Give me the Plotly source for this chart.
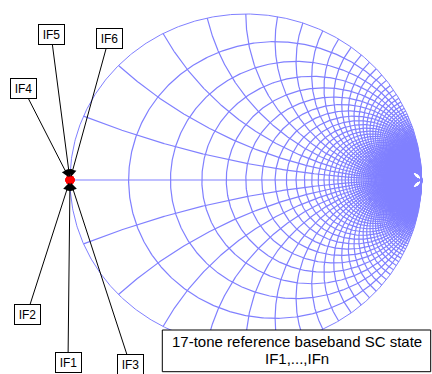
import numpy as np
import plotly.graph_objects as go

# Smith chart grid: normalised resistance circles and reactance arcs
r_values = [0.2, 0.4, 0.6, 0.8, 1.0, 1.2, 1.4, 1.6, 1.8, 2.0,
            2.2, 2.4, 2.6, 2.8, 3.0, 3.2, 3.4, 3.6, 3.8, 4.0,
            4.2, 4.4, 4.6, 4.8, 5.0, 5.2, 5.4, 5.6, 5.8, 6.0,
            6.2, 6.4, 6.6, 6.8, 7.0, 7.2, 7.4, 7.6, 7.8, 8.0,
            8.2, 8.4, 8.6, 8.8, 9.0, 9.2, 9.4, 9.6, 9.8, 10.0,
            10.5, 11, 11.5, 12, 12.5, 13, 13.5, 14, 14.5, 15,
            15.5, 16, 16.5, 17, 17.5, 18, 18.5, 19, 19.5, 20]
x_values = list(r_values)

# baseband tones: reflection coefficient presented at each IF frequency
tone_labels = ["IF1", "IF2", "IF3", "IF4", "IF5", "IF6"]
tone_gamma_re = [-1.0, -1.0, -1.0, -1.0, -1.0, -1.0]
tone_gamma_im = [0.0, 0.0, 0.0, 0.0, 0.0, 0.0]

legend_lines = ["17-tone reference baseband SC state", "IF1,...,IFn"]

W, H = 432, 374
CX, CY = 245.8, 180.0      # pixel position of gamma = 0
SX, SY = 175.8, 166.0      # pixels per unit of gamma (x / y)

GRID = "#8080ff"
FONT = "Liberation Sans, Arial, Helvetica, sans-serif"


def r_circle(r):
    c = r / (1 + r)
    rad = 1 / (1 + r)
    t = np.linspace(0, 2 * np.pi, 721)
    return c + rad * np.cos(t), rad * np.sin(t)


def x_arc(x):
    # arc of constant reactance x>0 from the outer circle to gamma = 1
    cy = 1 / x
    rad = 1 / x
    gx = (x * x - 1) / (x * x + 1)
    gy = 2 * x / (x * x + 1)
    phi0 = np.arctan2(gy - cy, gx - 1) % (2 * np.pi)
    t = np.linspace(phi0, 1.5 * np.pi, 600)
    return 1 + rad * np.cos(t), cy + rad * np.sin(t)


xs, ys = [], []


def add(px, py):
    xs.extend(px.tolist() + [None])
    ys.extend(py.tolist() + [None])


# real axis plus the resistance circles and reactance arcs
add(np.array([-1.0, 1.0]), np.array([0.0, 0.0]))
for r in r_values:
    add(*r_circle(r))
for x in x_values:
    ax_, ay_ = x_arc(x)
    add(ax_, ay_)
    add(ax_, -ay_)

fig = go.Figure()
fig.add_trace(go.Scatter(x=xs, y=ys, mode="lines",
                         line=dict(color=GRID, width=1.2),
                         hoverinfo="skip", connectgaps=False))
# outer boundary (r = 0), drawn a little lighter
bx, by = r_circle(0.0)
fig.add_trace(go.Scatter(x=bx, y=by, mode="lines",
                         line=dict(color=GRID, width=1),
                         hoverinfo="skip"))
fig.add_trace(go.Scatter(x=tone_gamma_re, y=tone_gamma_im, mode="markers",
                         marker=dict(color="#ff0000", size=9,
                                     line=dict(width=0))))

# label box centres relative to the marked point, in pixels
label_offsets = {"IF1": (-2, 182), "IF2": (-43, 134), "IF3": (60, 184),
                 "IF4": (-47, -92), "IF5": (-19, -146), "IF6": (39, -142)}

annotations = []
for name, gr, gi in zip(tone_labels, tone_gamma_re, tone_gamma_im):
    dx, dy = label_offsets[name]
    annotations.append(dict(
        x=gr, y=gi, xref="x", yref="y", text=name,
        showarrow=True, ax=dx, ay=dy, axref="pixel", ayref="pixel",
        arrowhead=2, arrowsize=1.5, arrowwidth=1, arrowcolor="black",
        standoff=3,
        font=dict(family=FONT, size=12, color="black"),
        bgcolor="white", bordercolor="black", borderwidth=1,
        borderpad=1.5, width=22, height=16))

# two-line caption in a framed box
box = (162.3, 330.0, 430.7, 371.7)
caption_y = [341.0, 358.0]
for line, cy in zip(legend_lines, caption_y):
    annotations.append(dict(
        x=(box[0] + box[2]) / 2 / W, y=1 - cy / H,
        xref="paper", yref="paper", text=line, showarrow=False,
        xanchor="center", yanchor="middle",
        font=dict(family=FONT, size=15, color="black")))

fig.update_layout(
    width=W, height=H,
    margin=dict(l=0, r=0, t=0, b=0, pad=0),
    paper_bgcolor="white", plot_bgcolor="white",
    showlegend=False,
    xaxis=dict(range=[-CX / SX, (W - CX) / SX], visible=False,
               fixedrange=True),
    yaxis=dict(range=[-(H - CY) / SY, CY / SY], visible=False,
               fixedrange=True),
    shapes=[dict(type="rect", xref="paper", yref="paper",
                 x0=box[0] / W, x1=box[2] / W,
                 y0=1 - box[3] / H, y1=1 - box[1] / H,
                 line=dict(color="black", width=1),
                 fillcolor="white", layer="above")],
    annotations=annotations,
)

fig.write_html("out.html")
